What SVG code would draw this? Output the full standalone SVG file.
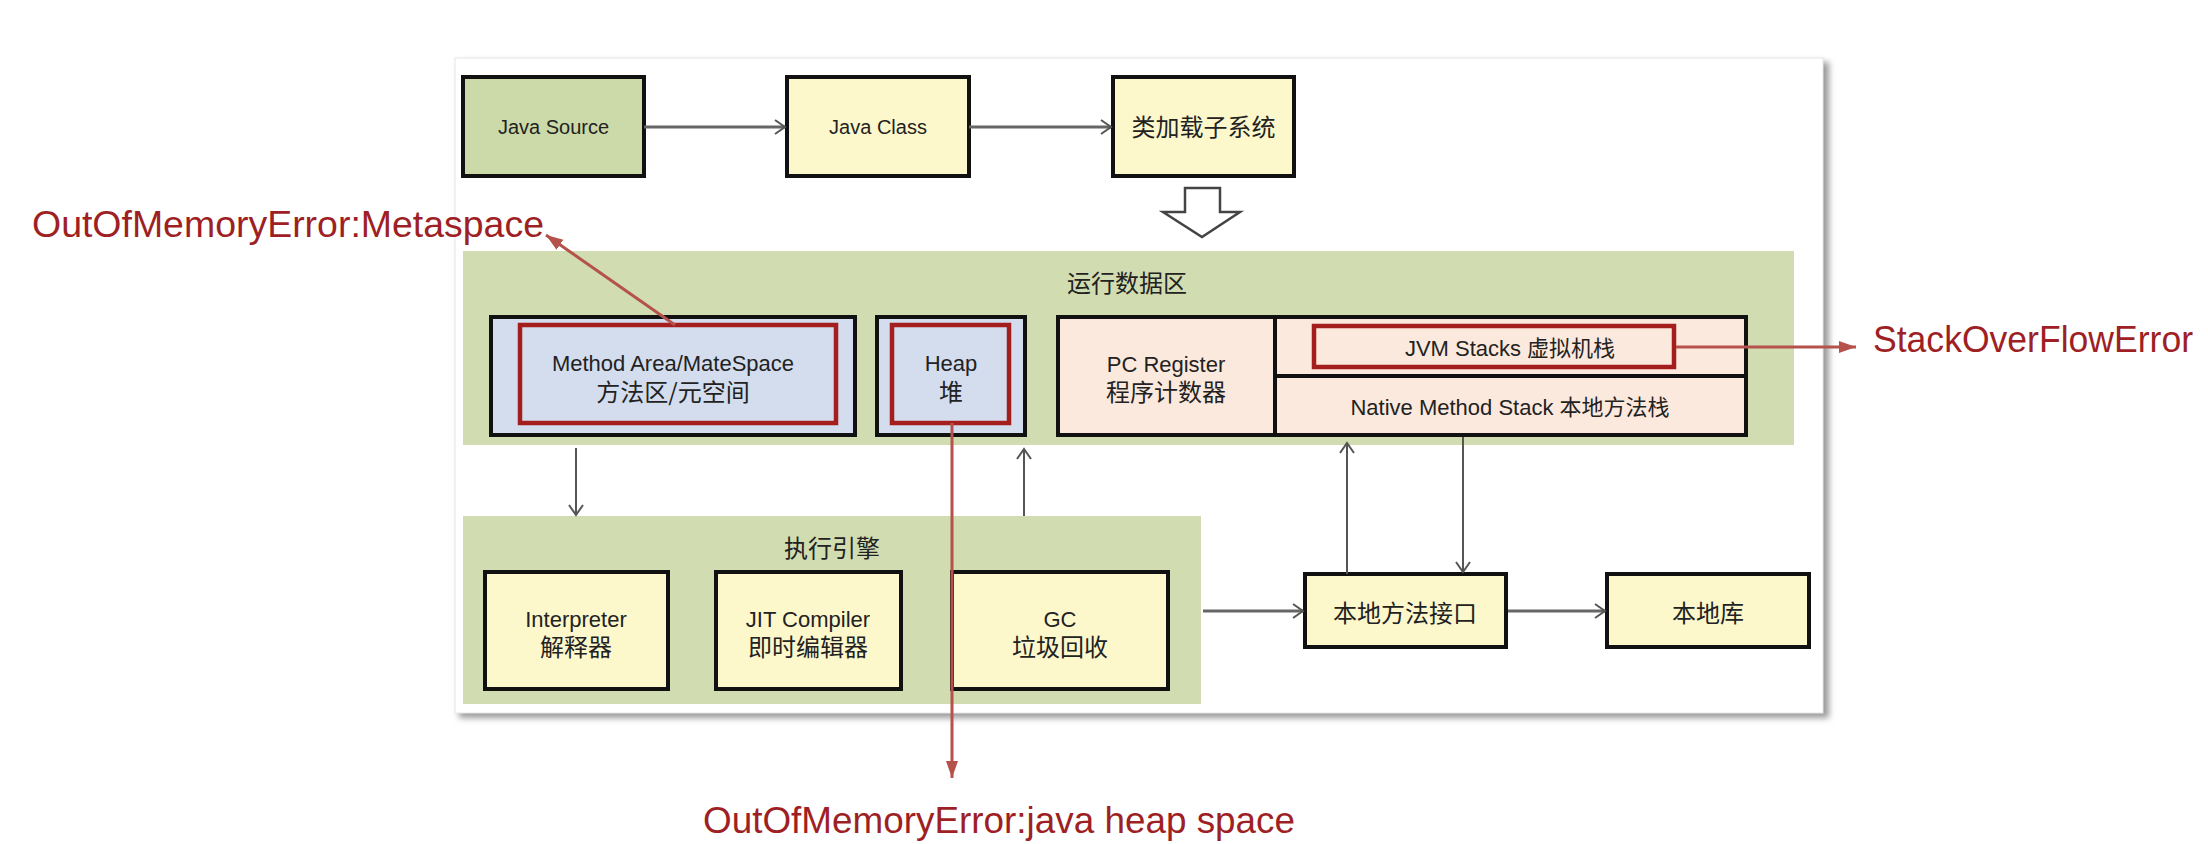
<svg xmlns="http://www.w3.org/2000/svg" width="2208" height="844" viewBox="0 0 2208 844">
<style>
.t{font-family:"Liberation Sans","Noto Sans CJK SC",sans-serif;fill:#222;text-anchor:middle}
.s20{font-size:20px}
.s22{font-size:22px}
.c24{font-size:24px;font-family:"Noto Sans CJK SC","Liberation Sans",sans-serif}
.err{font-family:"Liberation Sans",sans-serif;font-size:36px;fill:#9e1f24}
.box{stroke:#111;stroke-width:4}
.yel{fill:#fcf8cc}
.blue{fill:#d3ddee}
.pink{fill:#fce9dd}
.red{fill:none;stroke:#a51e1e;stroke-width:4.5}
.region{fill:#d1ddb1}
.con{fill:none;stroke:#555;stroke-width:2}
.conT{fill:none;stroke:#666;stroke-width:3}
.errline{fill:none;stroke:#b4524b;stroke-width:3}
</style>
<defs>
<marker id="open" markerUnits="userSpaceOnUse" markerWidth="16" markerHeight="16" viewBox="0 0 16 16" refX="14" refY="8" orient="auto">
<polyline points="4,1 14,8 4,15" fill="none" stroke="#555" stroke-width="2"/>
</marker>
<marker id="redhead" markerUnits="userSpaceOnUse" markerWidth="18" markerHeight="16" viewBox="0 0 18 16" refX="17" refY="8" orient="auto">
<polygon points="0,2 17,8 0,14" fill="#b4524b"/>
</marker>
<filter id="sh" x="-5%" y="-5%" width="110%" height="110%">
<feGaussianBlur stdDeviation="3"/>
</filter>
</defs>
<rect width="2208" height="844" fill="#fff"/>
<g id="panel">
<rect x="459" y="62" width="1370" height="656" fill="#9a9a9a" filter="url(#sh)"/>
<rect x="455" y="58" width="1368" height="655" fill="#fff" stroke="#e6e6e6" stroke-width="1"/>
</g>
<g id="runtime-area">
<rect class="region" x="463" y="251" width="1331" height="194"/>
<text class="t c24" x="1127" y="292">运行数据区</text>
</g>
<g id="exec-engine">
<rect class="region" x="463" y="516" width="738" height="188"/>
<text class="t c24" x="832" y="557">执行引擎</text>
</g>
<g id="java-source">
<rect class="box" x="463" y="77" width="181" height="99" fill="#ccd9a8"/>
<text class="t s20" x="553.5" y="134">Java Source</text>
</g>
<g id="java-class">
<rect class="box yel" x="787" y="77" width="182" height="99"/>
<text class="t s20" x="878" y="134">Java Class</text>
</g>
<g id="class-loader">
<rect class="box yel" x="1113" y="77" width="181" height="99"/>
<text class="t c24" x="1203.5" y="136">类加载子系统</text>
</g>
<g id="hollow-arrow">
<polygon points="1185,188 1220,188 1220,212 1240,212 1202,237 1163,212 1185,212" fill="#fff" stroke="#444" stroke-width="2.5" stroke-linejoin="miter"/>
</g>
<g id="method-area">
<rect class="box blue" x="491" y="317" width="364" height="118"/>
<rect class="red" x="520" y="325" width="316" height="98"/>
<text class="t s22" x="673" y="371">Method Area/MateSpace</text>
<text class="t c24" x="673" y="401">方法区/元空间</text>
</g>
<g id="heap">
<rect class="box blue" x="877" y="317" width="148" height="118"/>
<rect class="red" x="892" y="325" width="117" height="98"/>
<text class="t s22" x="951" y="371">Heap</text>
<text class="t c24" x="951" y="401">堆</text>
</g>
<g id="pc-register">
<rect class="box pink" x="1058" y="317" width="217" height="118"/>
<text class="t s22" x="1166" y="372">PC Register</text>
<text class="t c24" x="1166" y="401">程序计数器</text>
</g>
<g id="stacks">
<rect class="box pink" x="1275" y="317" width="471" height="118"/>
<line x1="1275" y1="376" x2="1746" y2="376" stroke="#111" stroke-width="4"/>
<rect class="red" x="1314" y="326" width="360" height="41"/>
<text class="t s22" x="1510" y="356">JVM Stacks 虚拟机栈</text>
<text class="t s22" x="1510" y="415">Native Method Stack 本地方法栈</text>
</g>
<g id="interpreter">
<rect class="box yel" x="485" y="572" width="183" height="117"/>
<text class="t s22" x="576" y="627">Interpreter</text>
<text class="t c24" x="576" y="656">解释器</text>
</g>
<g id="jit">
<rect class="box yel" x="716" y="572" width="185" height="117"/>
<text class="t s22" x="808" y="627">JIT Compiler</text>
<text class="t c24" x="808" y="656">即时编辑器</text>
</g>
<g id="gc">
<rect class="box yel" x="952" y="572" width="216" height="117"/>
<text class="t s22" x="1060" y="627">GC</text>
<text class="t c24" x="1060" y="656">垃圾回收</text>
</g>
<g id="native-interface">
<rect class="box yel" x="1305" y="574" width="201" height="73"/>
<text class="t c24" x="1405" y="622">本地方法接口</text>
</g>
<g id="native-lib">
<rect class="box yel" x="1607" y="574" width="202" height="73"/>
<text class="t c24" x="1708" y="622">本地库</text>
</g>
<g id="connectors">
<line class="conT" x1="644" y1="127" x2="785" y2="127" marker-end="url(#open)"/>
<line class="conT" x1="969" y1="127" x2="1111" y2="127" marker-end="url(#open)"/>
<line class="con" x1="576" y1="448" x2="576" y2="515" marker-end="url(#open)"/>
<line class="con" x1="1024" y1="516" x2="1024" y2="449" marker-end="url(#open)"/>
<line class="con" x1="1347" y1="574" x2="1347" y2="443" marker-end="url(#open)"/>
<line class="con" x1="1463" y1="437" x2="1463" y2="572" marker-end="url(#open)"/>
<line class="conT" x1="1203" y1="611" x2="1303" y2="611" marker-end="url(#open)"/>
<line class="conT" x1="1508" y1="611" x2="1605" y2="611" marker-end="url(#open)"/>
<line class="errline" x1="675" y1="325" x2="546" y2="235" marker-end="url(#redhead)"/>
<line class="errline" x1="952" y1="423" x2="952" y2="778" marker-end="url(#redhead)"/>
<line class="errline" x1="1676" y1="347" x2="1856" y2="347" marker-end="url(#redhead)"/>
</g>
<g id="errors">
<text class="err" x="32" y="237" textLength="512" lengthAdjust="spacingAndGlyphs">OutOfMemoryError:Metaspace</text>
<text class="err" x="1873" y="352" textLength="320" lengthAdjust="spacingAndGlyphs">StackOverFlowError</text>
<text class="err" x="703" y="833" textLength="592" lengthAdjust="spacingAndGlyphs">OutOfMemoryError:java heap space</text>
</g>
</svg>
